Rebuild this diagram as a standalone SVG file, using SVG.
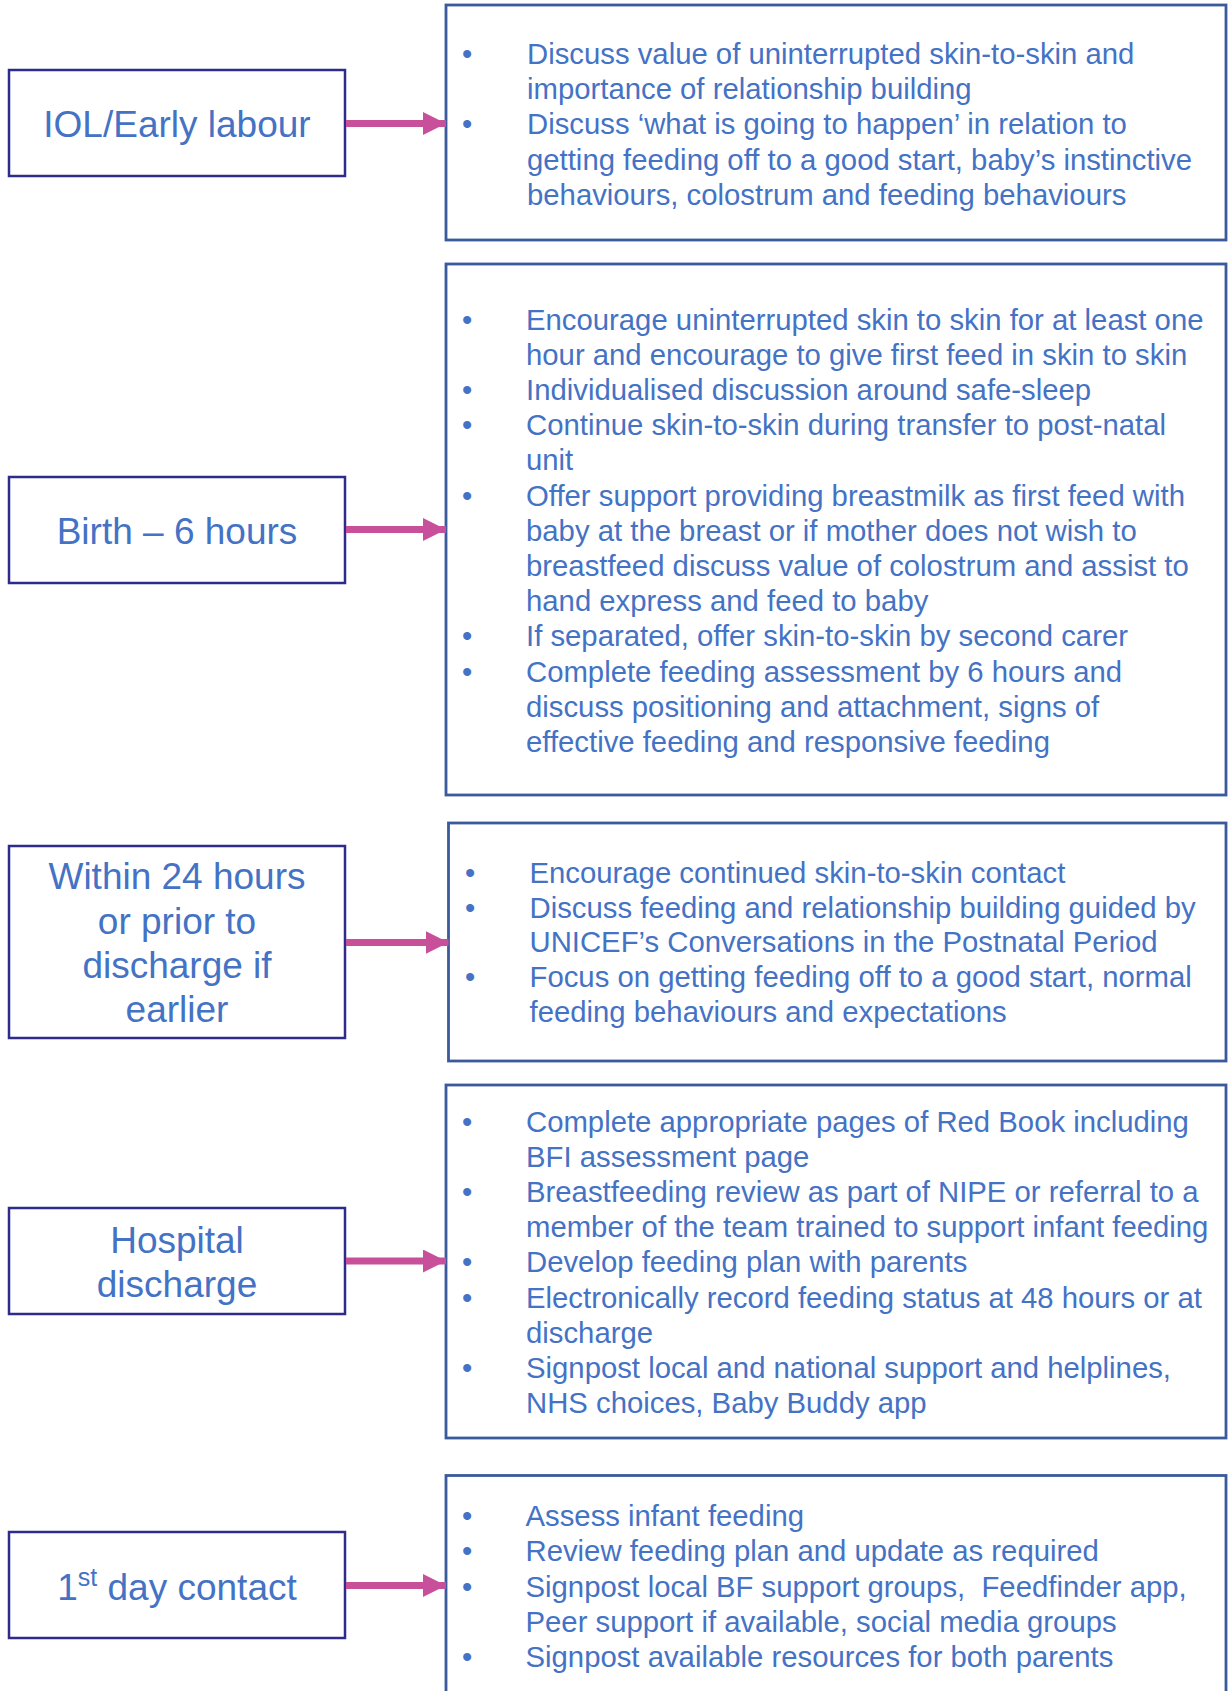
<svg xmlns="http://www.w3.org/2000/svg" width="1229" height="1691" viewBox="0 0 1229 1691">
<style>
  .stage rect { fill: #FFFFFF; stroke: #2E2B8A; stroke-width: 2.5; }
  .stage text { font-family: "Liberation Sans", Arial, sans-serif; font-size: 37px; fill: #4472C4; text-anchor: middle; }
  .info rect { fill: #FFFFFF; stroke: #3A5A9C; stroke-width: 2.8; }
  .info text { font-family: "Liberation Sans", Arial, sans-serif; font-size: 29.3px; fill: #4472C4; white-space: pre; }
  .conn line { stroke: #C8509A; stroke-width: 7; }
</style>
<defs>
  <marker id="ah" markerUnits="userSpaceOnUse" markerWidth="24" markerHeight="24" refX="23" refY="11.5" orient="auto">
    <path d="M0,0 L23,11.5 L0,23 Z" fill="#C8509A"/>
  </marker>
</defs>
<rect width="1229" height="1691" fill="#FFFFFF"/>

<g id="stage-iol" class="stage">
  <rect x="9" y="70" width="336" height="106"/>
  <text x="177" y="137">IOL/Early labour</text>
</g>
<g id="stage-birth" class="stage">
  <rect x="9" y="477" width="336" height="106"/>
  <text x="177" y="544">Birth – 6 hours</text>
</g>
<g id="stage-24h" class="stage">
  <rect x="9" y="846" width="336" height="192"/>
  <text x="177" y="889">Within 24 hours</text>
  <text x="177" y="933.5">or prior to</text>
  <text x="177" y="978">discharge if</text>
  <text x="177" y="1022">earlier</text>
</g>
<g id="stage-discharge" class="stage">
  <rect x="9" y="1208" width="336" height="106"/>
  <text x="177" y="1252.5">Hospital</text>
  <text x="177" y="1297">discharge</text>
</g>
<g id="stage-day1" class="stage">
  <rect x="9" y="1532" width="336" height="106"/>
  <text x="177" y="1600">1<tspan font-size="25" dy="-14">st</tspan><tspan dy="14"> day contact</tspan></text>
</g>

<g id="info-iol" class="info">
  <rect x="446" y="5" width="780" height="235"/>
  <text x="462" y="64">•</text>
  <text x="527" y="64">Discuss value of uninterrupted skin-to-skin and</text>
  <text x="527" y="99.2">importance of relationship building</text>
  <text x="462" y="134.4">•</text>
  <text x="527" y="134.4">Discuss ‘what is going to happen’ in relation to</text>
  <text x="527" y="169.6">getting feeding off to a good start, baby’s instinctive</text>
  <text x="527" y="204.8">behaviours, colostrum and feeding behaviours</text>
</g>

<g id="info-birth" class="info">
  <rect x="446" y="264" width="780" height="531"/>
  <text x="462" y="329.5">•</text>
  <text x="526" y="329.5">Encourage uninterrupted skin to skin for at least one</text>
  <text x="526" y="364.7">hour and encourage to give first feed in skin to skin</text>
  <text x="462" y="399.9">•</text>
  <text x="526" y="399.9">Individualised discussion around safe-sleep</text>
  <text x="462" y="435.1">•</text>
  <text x="526" y="435.1">Continue skin-to-skin during transfer to post-natal</text>
  <text x="526" y="470.3">unit</text>
  <text x="462" y="505.5">•</text>
  <text x="526" y="505.5">Offer support providing breastmilk as first feed with</text>
  <text x="526" y="540.7">baby at the breast or if mother does not wish to</text>
  <text x="526" y="575.9">breastfeed discuss value of colostrum and assist to</text>
  <text x="526" y="611.1">hand express and feed to baby</text>
  <text x="462" y="646.3">•</text>
  <text x="526" y="646.3">If separated, offer skin-to-skin by second carer</text>
  <text x="462" y="681.5">•</text>
  <text x="526" y="681.5">Complete feeding assessment by 6 hours and</text>
  <text x="526" y="716.7">discuss positioning and attachment, signs of</text>
  <text x="526" y="751.9">effective feeding and responsive feeding</text>
</g>

<g id="info-24h" class="info">
  <rect x="448.5" y="823" width="777.5" height="238"/>
  <text x="465" y="882.5">•</text>
  <text x="529.5" y="882.5">Encourage continued skin-to-skin contact</text>
  <text x="465" y="917.5">•</text>
  <text x="529.5" y="917.5">Discuss feeding and relationship building guided by</text>
  <text x="529.5" y="952">UNICEF’s Conversations in the Postnatal Period</text>
  <text x="465" y="987">•</text>
  <text x="529.5" y="987">Focus on getting feeding off to a good start, normal</text>
  <text x="529.5" y="1022">feeding behaviours and expectations</text>
</g>

<g id="info-discharge" class="info">
  <rect x="446" y="1085" width="780" height="353"/>
  <text x="462" y="1131.5">•</text>
  <text x="526" y="1131.5">Complete appropriate pages of Red Book including</text>
  <text x="526" y="1166.7">BFI assessment page</text>
  <text x="462" y="1201.9">•</text>
  <text x="526" y="1201.9">Breastfeeding review as part of NIPE or referral to a</text>
  <text x="526" y="1237.1">member of the team trained to support infant feeding</text>
  <text x="462" y="1272.3">•</text>
  <text x="526" y="1272.3">Develop feeding plan with parents</text>
  <text x="462" y="1307.5">•</text>
  <text x="526" y="1307.5">Electronically record feeding status at 48 hours or at</text>
  <text x="526" y="1342.7">discharge</text>
  <text x="462" y="1377.9">•</text>
  <text x="526" y="1377.9">Signpost local and national support and helplines,</text>
  <text x="526" y="1413.1">NHS choices, Baby Buddy app</text>
</g>

<g id="info-day1" class="info">
  <rect x="446" y="1475.5" width="780" height="230"/>
  <text x="462" y="1525.5">•</text>
  <text x="525.5" y="1525.5">Assess infant feeding</text>
  <text x="462" y="1561">•</text>
  <text x="525.5" y="1561">Review feeding plan and update as required</text>
  <text x="462" y="1596.5">•</text>
  <text x="525.5" y="1596.5">Signpost local BF support groups,&#160; Feedfinder app,</text>
  <text x="525.5" y="1631.5">Peer support if available, social media groups</text>
  <text x="462" y="1666.5">•</text>
  <text x="525.5" y="1666.5">Signpost available resources for both parents</text>
</g>

<g id="connectors" class="conn">
  <line x1="346" y1="123.5" x2="446" y2="123.5" marker-end="url(#ah)"/>
  <line x1="346" y1="529.5" x2="446" y2="529.5" marker-end="url(#ah)"/>
  <line x1="346" y1="942.5" x2="448.5" y2="942.5" marker-end="url(#ah)"/>
  <line x1="346" y1="1261" x2="446" y2="1261" marker-end="url(#ah)"/>
  <line x1="346" y1="1585.5" x2="446" y2="1585.5" marker-end="url(#ah)"/>
</g>
</svg>
